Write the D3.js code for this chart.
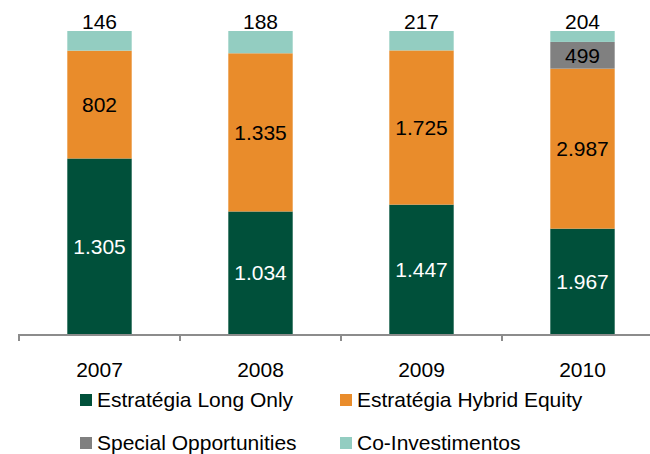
<!DOCTYPE html>
<html lang="pt">
<head>
<meta charset="UTF-8">
<script src="https://cdn.jsdelivr.net/npm/d3@7"></script>
<style>
  body { margin: 0; background: #fff; }
  text { font-family: "Liberation Sans", Arial, sans-serif; }
</style>
</head>
<body>
<div id="chart"></div>
<script>
  // dados
  const anos = ["2007", "2008", "2009", "2010"];
  const series = ["Estratégia Long Only", "Estratégia Hybrid Equity", "Special Opportunities", "Co-Investimentos"];
  const longOnly = [1305, 1034, 1447, 1967];
  const hybridEquity = [802, 1335, 1725, 2987];
  const specialOpp = [0, 0, 0, 499];
  const coInvest = [146, 188, 217, 204];
  const cores = ["#00503a", "#e98c2b", "#808080", "#93cdc1"];
  const corTexto = ["#fff", "#000", "#000", "#000"];

  const W = 650, H = 454;
  const plot = { left: 19, right: 663, top: 31, bottom: 334 };
  const fs = 21;

  const rows = anos.map((a, i) => ({
    ano: a, s0: longOnly[i], s1: hybridEquity[i], s2: specialOpp[i], s3: coInvest[i]
  }));
  const keys = ["s0", "s1", "s2", "s3"];
  const stacked = d3.stack().keys(keys).offset(d3.stackOffsetExpand)(rows);

  const svg = d3.select("#chart").append("svg")
    .attr("width", W).attr("height", H);

  const x = d3.scaleBand().domain(anos).range([plot.left, plot.right]).paddingInner(0.6).paddingOuter(0.3);
  const xTicks = d3.scaleBand().domain(anos).range([plot.left, plot.right]);
  const y = d3.scaleLinear().domain([0, 1]).range([plot.bottom, plot.top]);

  // barras
  const grupos = svg.selectAll("g.serie").data(stacked).enter().append("g")
    .attr("class", "serie")
    .attr("fill", (d, i) => cores[i]);

  grupos.selectAll("rect").data(d => d).enter().append("rect")
    .attr("x", d => x(d.data.ano))
    .attr("width", x.bandwidth())
    .attr("y", d => y(d[1]))
    .attr("height", d => y(d[0]) - y(d[1]));

  // rótulos
  const fmt = v => d3.format(",")(v).replace(/,/g, ".");
  stacked.forEach((s, si) => {
    s.forEach(d => {
      const v = d.data[keys[si]];
      if (!v) return;
      const cx = x(d.data.ano) + x.bandwidth() / 2;
      let cy, base = "central";
      if (si === 3) { cy = y(d[1]) - 2; base = "auto"; }
      else cy = (y(d[0]) + y(d[1])) / 2;
      svg.append("text")
        .attr("x", cx).attr("y", cy)
        .attr("text-anchor", "middle")
        .attr("dominant-baseline", base)
        .attr("font-size", fs)
        .attr("fill", corTexto[si])
        .text(fmt(v));
    });
  });

  // eixo x
  const eixo = svg.append("g").attr("stroke", "#8c8c8c").attr("stroke-width", 2);
  eixo.append("line").attr("x1", plot.left).attr("x2", plot.right)
    .attr("y1", plot.bottom + 1).attr("y2", plot.bottom + 1);
  anos.forEach(a => {
    const tx = xTicks(a);
    eixo.append("line").attr("x1", tx).attr("x2", tx)
      .attr("y1", plot.bottom).attr("y2", plot.bottom + 7);
  });
  svg.selectAll("text.ano").data(anos).enter().append("text")
    .attr("class", "ano")
    .attr("x", d => xTicks(d) + xTicks.bandwidth() / 2)
    .attr("y", 377)
    .attr("text-anchor", "middle")
    .attr("font-size", fs)
    .attr("fill", "#000")
    .text(d => d);

  // legenda
  const legPos = [[80, 394], [340, 394], [80, 437], [340, 437]];
  series.forEach((nome, i) => {
    const [lx, ly] = legPos[i];
    svg.append("rect").attr("x", lx).attr("y", ly).attr("width", 12).attr("height", 12)
      .attr("fill", cores[i]);
    svg.append("text").attr("x", lx + 17).attr("y", ly + 13)
      .attr("font-size", fs).attr("fill", "#000").text(nome);
  });
</script>
</body>
</html>
